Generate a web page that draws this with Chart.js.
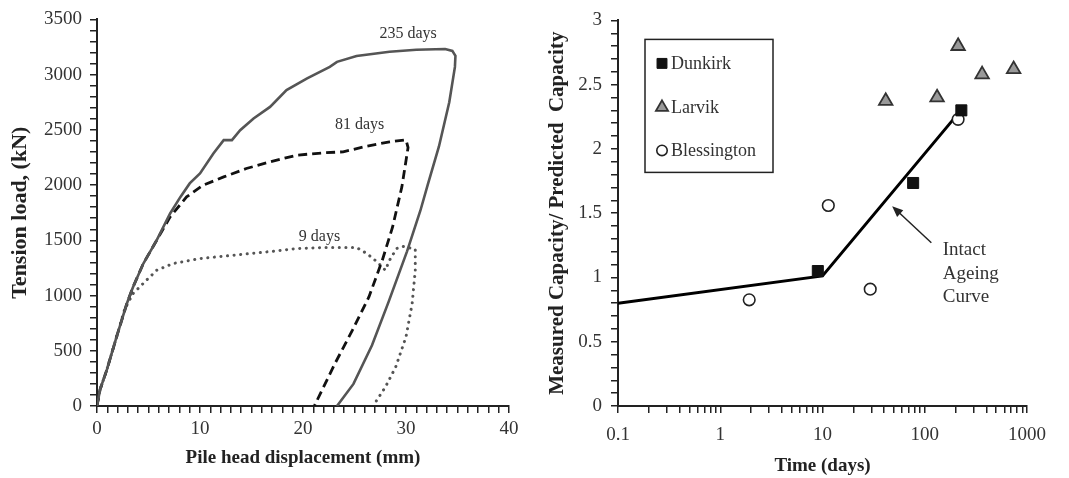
<!DOCTYPE html>
<html>
<head>
<meta charset="utf-8">
<script src="https://cdn.jsdelivr.net/npm/chart.js@4.4.1/dist/chart.umd.min.js"></script>
<style>
  body { margin: 0; background: #fff; }
  #left { position: absolute; left: 0; top: 0; }
  #right { position: absolute; left: 535px; top: 0; }
</style>
</head>
<body>
<canvas id="left" width="535" height="478"></canvas>
<canvas id="right" width="534" height="478"></canvas>
<script>
'use strict'

// ---- left panel: load / displacement ----
const disp235 = [0, 0.3, 0.94, 1.9, 2.9, 3.5, 4.5, 5.8, 7.1, 8.1, 9.0, 10.0, 11.3, 12.3, 13.1, 13.9, 15.2, 16.8, 18.4, 20.4, 22.6, 23.3, 25.2, 28.4, 31.0, 33.8, 34.5, 34.8, 34.75, 34.2, 33.2, 32.1, 31.4, 30.1, 28.3, 26.7, 24.9, 23.3]
const load235 = [0, 150, 323, 625, 928, 1078, 1290, 1501, 1743, 1893, 2015, 2105, 2286, 2407, 2407, 2497, 2603, 2708, 2860, 2966, 3071, 3116, 3168, 3207, 3225, 3232, 3215, 3170, 3070, 2750, 2350, 2000, 1770, 1400, 940, 550, 200, 0]

const disp81 = [0, 0.3, 0.94, 1.9, 2.9, 3.5, 4.5, 5.8, 7.1, 8.7, 10.3, 12.3, 14.5, 16.8, 19.4, 22.0, 23.9, 26.2, 28.4, 30.0, 30.2, 29.6, 28.7, 27.7, 26.4, 24.8, 23.1, 21.1]
const load81 = [0, 150, 323, 625, 928, 1078, 1290, 1501, 1712, 1893, 1999, 2074, 2150, 2210, 2271, 2292, 2301, 2352, 2391, 2410, 2340, 1984, 1621, 1320, 987, 686, 384, 0]

const disp9 = [0, 0.3, 0.94, 1.9, 2.7, 3.5, 4.8, 5.8, 7.4, 10, 13.9, 17.1, 19.4, 22.0, 25.2, 26.2, 27.2, 28.0, 28.4, 29.1, 29.7, 30.9, 30.9, 30.6, 30.0, 29.0, 28.0, 26.8]
const load9 = [0, 150, 323, 625, 880, 1018, 1139, 1229, 1290, 1335, 1371, 1401, 1426, 1435, 1435, 1380, 1304, 1229, 1320, 1426, 1445, 1420, 1229, 928, 625, 353, 172, 0]

const curveLabels = ['235 days', '81 days', '9 days']
const curveLabelX = [30.2, 25.5, 21.6]
const curveLabelY = [3367, 2543, 1531]

const loadTicks = [0, 500, 1000, 1500, 2000, 2500, 3000, 3500]
const dispTicks = [0, 10, 20, 30, 40]

// ---- right panel: capacity ratio vs time ----
const dunkirkDays = [9, 77, 228]
const dunkirkRatio = [1.05, 1.735, 2.30]
const larvikDays = [41.5, 132, 212, 364, 740]
const larvikRatio = [2.373, 2.40, 2.80, 2.58, 2.62]
const blessDays = [1.92, 11.4, 29.3, 212]
const blessRatio = [0.826, 1.56, 0.909, 2.23]
const curveDays = [0.1, 10, 220]
const curveRatio = [0.80, 1.012, 2.29]

const timeTicks = [0.1, 1, 10, 100, 1000]
const ratioTicks = [0, 0.5, 1, 1.5, 2, 2.5, 3]

const serif = "'Liberation Serif', 'Times New Roman', serif"
const pts = (xs, ys) => xs.map((x, i) => ({ x: x, y: ys[i] }))

function axisLook(extra) {
  return Object.assign({
    grid: { drawOnChartArea: false, drawTicks: true, tickLength: 7, color: '#222', lineWidth: 1.5 },
    border: { display: true, color: '#222', width: 2 },
  }, extra)
}

const leftNotes = {
  id: 'leftNotes',
  afterDatasetsDraw(chart) {
    const { ctx, scales } = chart
    ctx.save()
    ctx.font = '16px ' + serif
    ctx.fillStyle = '#333'
    ctx.textAlign = 'center'
    ctx.textBaseline = 'middle'
    curveLabels.forEach((t, i) => {
      ctx.fillText(t, scales.x.getPixelForValue(curveLabelX[i]), scales.y.getPixelForValue(curveLabelY[i]))
    })
    ctx.restore()
  },
}

new Chart(document.getElementById('left'), {
  type: 'scatter',
  data: {
    datasets: [
      { label: '235 days', data: pts(disp235, load235), showLine: true, borderColor: '#555', borderWidth: 2.6, pointRadius: 0 },
      { label: '81 days', data: pts(disp81, load81), showLine: true, borderColor: '#111', borderWidth: 2.8, borderDash: [9, 5], pointRadius: 0 },
      { label: '9 days', data: pts(disp9, load9), showLine: true, borderColor: '#555', borderWidth: 3, borderDash: [0.1, 6.5], borderCapStyle: 'round', pointRadius: 0 },
    ],
  },
  options: {
    responsive: false,
    animation: false,
    layout: { padding: { left: 0, top: 19, right: 26, bottom: 0 } },
    plugins: { legend: { display: false }, tooltip: { enabled: false } },
    scales: {
      x: axisLook({
        type: 'linear', min: 0, max: 40,
        afterBuildTicks: (s) => { s.ticks = Array.from({ length: 41 }, (_, i) => ({ value: i })) },
        afterFit: (s) => { s.height = 72 },
        ticks: {
          autoSkip: false, maxRotation: 0, padding: 5, color: '#333', font: { family: serif, size: 19 },
          callback: (v) => dispTicks.includes(v) ? String(v) : '',
        },
        title: { display: true, text: 'Pile head displacement (mm)', color: '#222', font: { family: serif, size: 19, weight: 'bold' }, padding: { top: 0, bottom: 9 } },
      }),
      y: axisLook({
        type: 'linear', min: 0, max: 3500,
        afterBuildTicks: (s) => { s.ticks = Array.from({ length: 36 }, (_, i) => ({ value: i * 100 })) },
        afterFit: (s) => { s.width = 97 },
        ticks: {
          autoSkip: false, padding: 8, color: '#333', font: { family: serif, size: 19 },
          callback: (v) => loadTicks.includes(v) ? String(v) : '',
        },
        title: { display: true, text: 'Tension load, (kN)', color: '#222', font: { family: serif, size: 22, weight: 'bold' }, padding: { top: 7, bottom: 0 } },
      }),
    },
  },
  plugins: [leftNotes],
})

const rightNotes = {
  id: 'rightNotes',
  afterDatasetsDraw(chart) {
    const { ctx, scales, chartArea } = chart
    const x = scales.x, y = scales.y
    ctx.save()
    // arrow
    const tx = x.getPixelForValue(116), ty = y.getPixelForValue(1.27)
    const hx = x.getPixelForValue(48), hy = y.getPixelForValue(1.555)
    const a = Math.atan2(hy - ty, hx - tx)
    ctx.strokeStyle = '#222'
    ctx.fillStyle = '#222'
    ctx.lineWidth = 1.5
    ctx.beginPath()
    ctx.moveTo(tx, ty)
    ctx.lineTo(hx - 6 * Math.cos(a), hy - 6 * Math.sin(a))
    ctx.stroke()
    ctx.beginPath()
    ctx.moveTo(hx, hy)
    ctx.lineTo(hx - 11 * Math.cos(a) + 4.5 * Math.sin(a), hy - 11 * Math.sin(a) - 4.5 * Math.cos(a))
    ctx.lineTo(hx - 11 * Math.cos(a) - 4.5 * Math.sin(a), hy - 11 * Math.sin(a) + 4.5 * Math.cos(a))
    ctx.closePath()
    ctx.fill()
    // curve note
    ctx.font = '19px ' + serif
    ctx.fillStyle = '#333'
    ctx.textAlign = 'left'
    ctx.textBaseline = 'middle'
    const nx = x.getPixelForValue(150), ny = y.getPixelForValue(1.21)
    ;['Intact', 'Ageing', 'Curve'].forEach((t, i) => ctx.fillText(t, nx, ny + i * 23.5))
    // legend box
    const bx = chartArea.left + 27, by = chartArea.top + 19
    ctx.strokeStyle = '#222'
    ctx.lineWidth = 1.5
    ctx.strokeRect(bx, by, 128, 133)
    ctx.font = '18px ' + serif
    const rows = [24, 68, 111]
    chart.data.datasets.slice(0, 3).forEach((ds, i) => {
      const ry = by + rows[i]
      ctx.fillStyle = ds.backgroundColor
      ctx.strokeStyle = ds.borderColor
      ctx.lineWidth = ds.borderWidth
      Chart.helpers.drawPoint(ctx, { pointStyle: ds.pointStyle, radius: ds.pointRadius * 0.9, borderWidth: ds.borderWidth }, bx + 17, ry)
      ctx.fillStyle = '#333'
      ctx.fillText(ds.label, bx + 26, ry + 1)
    })
    ctx.restore()
  },
}

new Chart(document.getElementById('right'), {
  type: 'scatter',
  data: {
    datasets: [
      { label: 'Dunkirk', data: pts(dunkirkDays, dunkirkRatio), pointStyle: 'rect', pointRadius: 7.8, backgroundColor: '#111', borderColor: '#111', borderWidth: 1, order: 1 },
      { label: 'Larvik', data: pts(larvikDays, larvikRatio), pointStyle: 'triangle', pointRadius: 7.8, backgroundColor: '#999', borderColor: '#333', borderWidth: 1.8, order: 1 },
      { label: 'Blessington', data: pts(blessDays, blessRatio), pointStyle: 'circle', pointRadius: 5.8, backgroundColor: '#fff', borderColor: '#222', borderWidth: 1.6, order: 1 },
      { label: 'Intact Ageing Curve', data: pts(curveDays, curveRatio), showLine: true, borderColor: '#000', borderWidth: 3, pointRadius: 0, order: 2 },
    ],
  },
  options: {
    responsive: false,
    animation: false,
    layout: { padding: { left: 0, top: 18, right: 42, bottom: 0 } },
    plugins: { legend: { display: false }, tooltip: { enabled: false } },
    scales: {
      x: axisLook({
        type: 'logarithmic', min: 0.1, max: 1000,
        afterBuildTicks: (s) => {
          const t = []
          for (let p = -1; p < 3; p++) for (let m = 1; m < 10; m++) t.push({ value: +(m * Math.pow(10, p)).toPrecision(3) })
          t.push({ value: 1000 })
          s.ticks = t
        },
        afterFit: (s) => { s.height = 72 },
        ticks: {
          autoSkip: false, maxRotation: 0, padding: 11, color: '#333', font: { family: serif, size: 19 },
          callback: (v) => timeTicks.includes(v) ? String(v) : '',
        },
        title: { display: true, text: 'Time (days)', color: '#222', font: { family: serif, size: 19, weight: 'bold' }, padding: { top: 0, bottom: 1 } },
      }),
      y: axisLook({
        type: 'linear', min: 0, max: 3,
        afterBuildTicks: (s) => { s.ticks = Array.from({ length: 31 }, (_, i) => ({ value: i / 10 })) },
        afterFit: (s) => { s.width = 83 },
        ticks: {
          autoSkip: false, padding: 9, color: '#333', font: { family: serif, size: 19 },
          callback: (v) => ratioTicks.includes(v) ? String(v) : '',
        },
        title: { display: true, text: 'Measured Capacity/ Predicted  Capacity', color: '#222', font: { family: serif, size: 21, weight: 'bold' }, padding: { top: 10, bottom: 0 } },
      }),
    },
  },
  plugins: [rightNotes],
})
</script>
</body>
</html>
